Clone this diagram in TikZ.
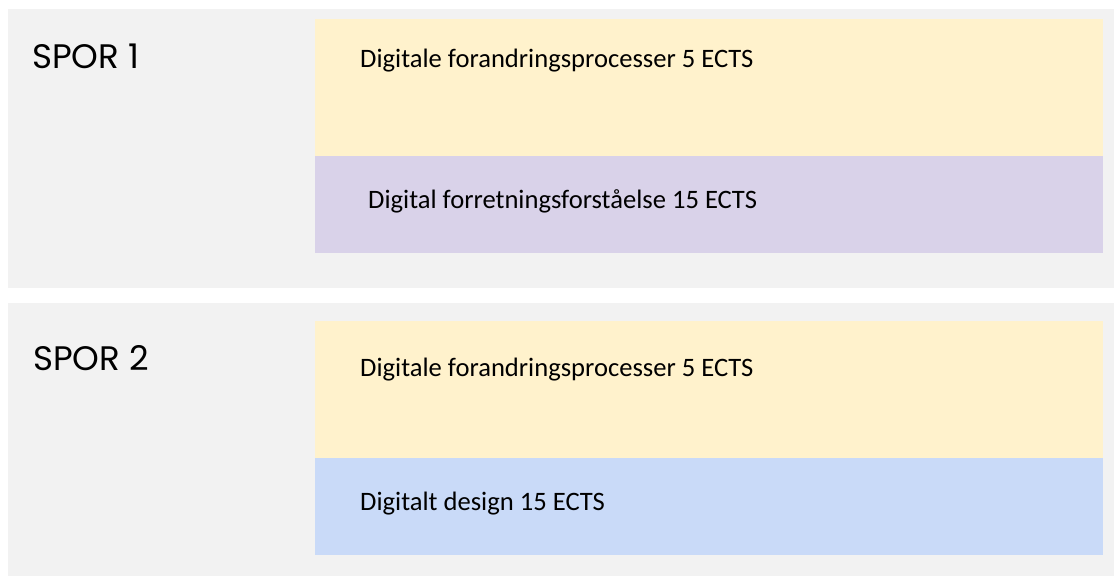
\documentclass[tikz,border=0pt]{standalone}
\usepackage{fontspec}
\setmainfont{Carlito}
\newfontfamily\sporfont{Poppins}
\definecolor{panelgray}{HTML}{F2F2F2}
\definecolor{boxyellow}{HTML}{FFF2CC}
\definecolor{boxpurple}{HTML}{D9D2E9}
\definecolor{boxblue}{HTML}{C9DAF8}
\begin{document}
\begin{tikzpicture}[x=1pt,y=-1pt,
  panel/.style={fill=panelgray,draw=none},
  course/.style={draw=none},
  coursetext/.style={anchor=base west,inner sep=0pt,font=\fontsize{26.6}{30}\selectfont},
  sportext/.style={anchor=base west,inner sep=0pt,font=\sporfont\fontsize{34}{40}\selectfont}]
\useasboundingbox (0,0) rectangle (1114,576);
\fill[white] (0,0) rectangle (1114,576);
% panel 1
\path[panel] (8,9) rectangle (1114,288);
\path[course,fill=boxyellow] (315,19) rectangle (1103,156);
\path[course,fill=boxpurple] (315,156) rectangle (1103,253);
\node[sportext] (spor1) at (32,68) {SPOR 1};
\node[coursetext] (c11) at (360,67) {Digitale forandringsprocesser 5 ECTS};
\node[coursetext] (c12) at (368,208) {Digital forretningsforståelse 15 ECTS};
% panel 2
\path[panel] (8,303) rectangle (1114,576);
\path[course,fill=boxyellow] (315,321) rectangle (1103,458);
\path[course,fill=boxblue] (315,458) rectangle (1103,555);
\node[sportext] (spor2) at (33,370) {SPOR 2};
\node[coursetext] (c21) at (360,376) {Digitale forandringsprocesser 5 ECTS};
\node[coursetext] (c22) at (360,510) {Digitalt design 15 ECTS};
\end{tikzpicture}
\end{document}
